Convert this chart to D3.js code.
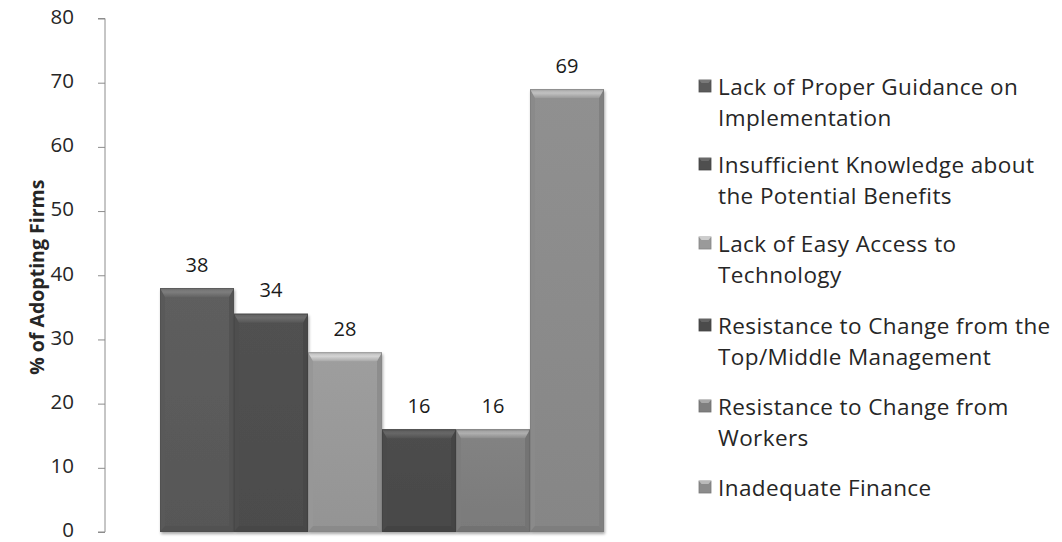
<!DOCTYPE html>
<html>
<head>
<meta charset="utf-8">
<script src="https://cdn.jsdelivr.net/npm/d3@7"></script>
<style>
  html, body { margin: 0; padding: 0; background: #fff; }
  svg { display: block; font-family: "Open Sans", "DejaVu Sans", sans-serif; }
</style>
</head>
<body>
<svg id="chart" width="1062" height="542"></svg>
<script>
// Barriers to adoption, share of adopting firms (%)
const categories = [
  "Lack of Proper Guidance on Implementation",
  "Insufficient Knowledge about the Potential Benefits",
  "Lack of Easy Access to Technology",
  "Resistance to Change from the Top/Middle Management",
  "Resistance to Change from Workers",
  "Inadequate Finance"
];
const values = [38, 34, 28, 16, 16, 69];
const legendLines = [
  ["Lack of Proper Guidance on", "Implementation"],
  ["Insufficient Knowledge about", "the Potential Benefits"],
  ["Lack of Easy Access to", "Technology"],
  ["Resistance to Change from the", "Top/Middle Management"],
  ["Resistance to Change from", "Workers"],
  ["Inadequate Finance"]
];
const yTicks = [0, 10, 20, 30, 40, 50, 60, 70, 80];
const fills = ["#5b5b5b", "#4f4f4f", "#9a9a9a", "#4b4b4b", "#7f7f7f", "#8c8c8c"];
const yTitle = "% of Adopting Firms";

const svg = d3.select("#chart");
const axisX = 105;
const y = d3.scaleLinear().domain([0, 80]).range([532, 18.5]);
const x = d3.scaleBand().domain(categories).range([160, 604]).padding(0);

// Y axis
const yAxis = svg.append("g")
  .attr("transform", `translate(${axisX},0)`)
  .call(d3.axisLeft(y).tickValues(yTicks).tickSize(7).tickPadding(24).tickFormat(d3.format("d")));
yAxis.select(".domain").attr("stroke", "#8c8c8c").attr("d", `M-7,${y(80)}H0V${y(0)}H-7`);
yAxis.selectAll(".tick line").attr("stroke", "#8c8c8c");
yAxis.selectAll(".tick text").attr("fill", "#262626").attr("font-size", 20.5)
  .attr("font-family", "'Open Sans', sans-serif").attr("dy", "0.24em");

svg.append("text")
  .attr("transform", `translate(36,${(y(0) + y(80)) / 2 + 2}) rotate(-90)`)
  .attr("text-anchor", "middle").attr("dominant-baseline", "central")
  .attr("font-size", 19.5).attr("font-weight", "bold").attr("fill", "#262626")
  .text(yTitle);

// Gradients for the bevelled bar faces
const defs = svg.append("defs");
const shade = (c, k) => d3.color(c).brighter(k).formatHex();
fills.forEach((c, i) => {
  const gTop = defs.append("linearGradient").attr("id", "top" + i)
    .attr("x1", 0).attr("y1", 0).attr("x2", 0).attr("y2", 1);
  gTop.append("stop").attr("offset", 0).attr("stop-color", shade(c, 0.55));
  gTop.append("stop").attr("offset", 0.45).attr("stop-color", shade(c, 0.9));
  gTop.append("stop").attr("offset", 1).attr("stop-color", shade(c, 0.25));
  const gFace = defs.append("linearGradient").attr("id", "face" + i)
    .attr("x1", 0).attr("y1", 0).attr("x2", 0).attr("y2", 1);
  gFace.append("stop").attr("offset", 0).attr("stop-color", shade(c, 0.08));
  gFace.append("stop").attr("offset", 1).attr("stop-color", shade(c, -0.12));
});
const shadow = defs.append("filter").attr("id", "shadow")
  .attr("x", "-10%").attr("y", "-10%").attr("width", "120%").attr("height", "120%");
shadow.append("feGaussianBlur").attr("in", "SourceAlpha").attr("stdDeviation", 1.5);
shadow.append("feOffset").attr("dx", 1).attr("dy", 1.5).attr("result", "b");
shadow.append("feComponentTransfer").append("feFuncA").attr("type", "linear").attr("slope", 0.35);
const merge = shadow.append("feMerge");
merge.append("feMergeNode");
merge.append("feMergeNode").attr("in", "SourceGraphic");

const bev = 9, side = 5, bot = 6;
const bars = svg.append("g").selectAll("g.bar")
  .data(categories.map((c, i) => ({ c, v: values[i], i })))
  .join("g").attr("class", "bar");

bars.each(function (d) {
  const g = d3.select(this);
  const x0 = x(d.c), x1 = x(d.c) + x.bandwidth();
  const y0 = y(d.v), y1 = y(0);
  const c = fills[d.i];
  g.append("rect").attr("x", x0).attr("y", y0).attr("width", x1 - x0).attr("height", y1 - y0)
    .attr("fill", `url(#face${d.i})`).attr("filter", "url(#shadow)");
  // left and right bevels
  g.append("path").attr("d", `M${x0},${y0}L${x0 + side},${y0 + bev}L${x0 + side},${y1 - bot}L${x0},${y1}Z`)
    .attr("fill", shade(c, -0.05));
  g.append("path").attr("d", `M${x1},${y0}L${x1 - side},${y0 + bev}L${x1 - side},${y1 - bot}L${x1},${y1}Z`)
    .attr("fill", shade(c, -0.25));
  // bottom bevel
  g.append("path").attr("d", `M${x0},${y1}L${x0 + side},${y1 - bot}L${x1 - side},${y1 - bot}L${x1},${y1}Z`)
    .attr("fill", shade(c, -0.3));
  // top bevel
  g.append("path").attr("d", `M${x0},${y0}L${x1},${y0}L${x1 - side},${y0 + bev}L${x0 + side},${y0 + bev}Z`)
    .attr("fill", `url(#top${d.i})`);
  g.append("rect").attr("x", x0 + 0.5).attr("y", y0 + 0.5).attr("width", x1 - x0 - 1).attr("height", y1 - y0 - 1)
    .attr("fill", "none").attr("stroke", shade(c, -0.4)).attr("stroke-opacity", 0.6);
  // value label
  g.append("text").attr("x", (x0 + x1) / 2).attr("y", y0 - 24)
    .attr("text-anchor", "middle").attr("dominant-baseline", "central")
    .attr("font-size", 20).attr("fill", "#1a1a1a").text(d.v);
});

// Legend
const legend = svg.append("g");
const itemY = [86, 164, 243, 325, 406, 487];
legendLines.forEach((lines, i) => {
  const g = legend.append("g").attr("transform", `translate(0,${itemY[i]})`);
  const c = fills[i];
  g.append("rect").attr("x", 699).attr("y", -6).attr("width", 12).attr("height", 12)
    .attr("fill", c).attr("stroke", shade(c, -0.4)).attr("stroke-width", 0.8);
  g.append("path").attr("d", "M699,-6L711,-6L708.5,-3L701.5,-3Z").attr("fill", shade(c, 0.8));
  lines.forEach((t, j) => {
    g.append("text").attr("x", 718).attr("y", j * 31)
      .attr("dominant-baseline", "central").attr("font-size", 22.5)
      .attr("letter-spacing", 0.4).attr("fill", "#262626")
      .text(t);
  });
});
</script>
</body>
</html>
